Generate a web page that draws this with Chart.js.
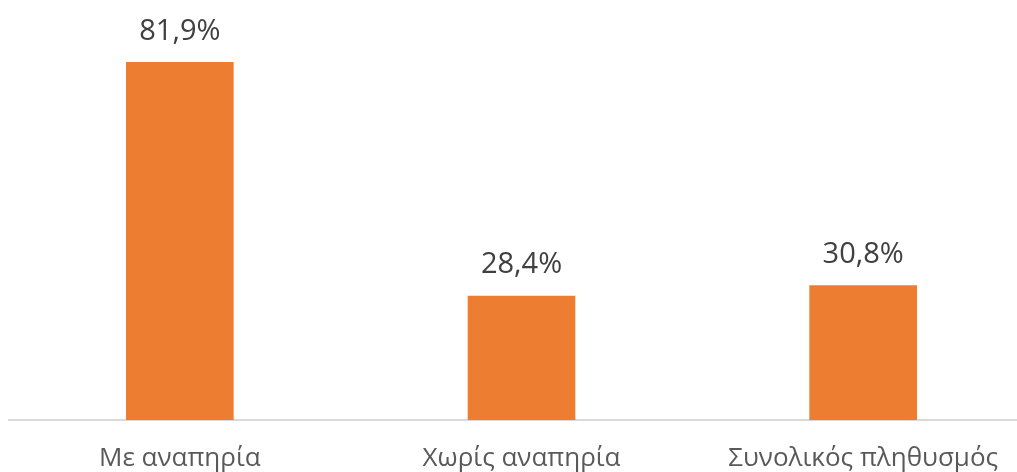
<!DOCTYPE html>
<html>
<head>
    <title>Αναπηρία</title>
    <script src="https://cdn.jsdelivr.net/npm/chart.js"></script>
    <style>
        html, body {
            margin: 0;
            padding: 0;
            background: #ffffff;
            overflow: hidden;
        }
        #wrap {
            width: 1040px; /* wider than window, right side is cropped like the original */
            height: 472px;
        }
    </style>
</head>
<body>
    <div id="wrap"><canvas id="chart"></canvas></div>
    <script>
        const categories = ['Με αναπηρία', 'Χωρίς αναπηρία', 'Συνολικός πληθυσμός'];
        const values = [81.9, 28.4, 30.8];

        // draws the "81,9%" labels above the bars
        const valueLabels = {
            id: 'valueLabels',
            afterDatasetsDraw(chart) {
                const ctx = chart.ctx;
                const meta = chart.getDatasetMeta(0);
                ctx.save();
                ctx.font = '29px "Open Sans", sans-serif';
                ctx.fillStyle = '#404040';
                ctx.textAlign = 'center';
                ctx.textBaseline = 'middle';
                meta.data.forEach((bar, i) => {
                    const txt = values[i].toFixed(1).replace('.', ',') + '%';
                    ctx.fillText(txt, bar.x, bar.y - 31);
                });
                ctx.restore();
            }
        };

        new Chart(document.getElementById('chart'), {
            type: 'bar',
            data: {
                labels: categories,
                datasets: [{
                    data: values,
                    backgroundColor: '#ED7D31',
                    barThickness: 107
                }]
            },
            options: {
                responsive: true,
                maintainAspectRatio: false,
                animation: false,
                layout: {
                    padding: { left: 9, right: 6, top: 27, bottom: 0 }
                },
                plugins: {
                    legend: { display: false },
                    tooltip: { enabled: false }
                },
                scales: {
                    x: {
                        afterFit: (scale) => { scale.height = 52; },
                        grid: { display: false, drawTicks: false },
                        border: { display: true, color: '#d9d9d9', width: 2 },
                        ticks: {
                            padding: 23,
                            color: '#595959',
                            font: { family: '"Open Sans", sans-serif', size: 26 }
                        }
                    },
                    y: {
                        display: false,
                        min: 0,
                        max: 90
                    }
                }
            },
            plugins: [valueLabels]
        });
    </script>
</body>
</html>
